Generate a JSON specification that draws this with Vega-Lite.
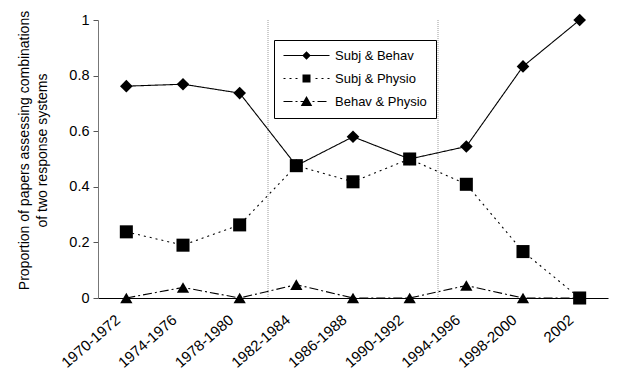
{
  "$schema": "https://vega.github.io/schema/vega-lite/v6.json",
  "width": 510,
  "height": 278,
  "autosize": {"type": "none"},
  "padding": {"left": 98, "top": 20, "right": 11, "bottom": 72},
  "background": "white",
  "config": {
    "view": {"stroke": null},
    "font": "Liberation Sans",
    "axis": {"grid": false, "labelFont": "Liberation Sans", "titleFont": "Liberation Sans", "labelColor": "black", "titleColor": "black"}
  },
  "datasets": {
    "series": [
      {"period": "1970-1972", "series": "Behav & Physio", "value": 0},
      {"period": "1974-1976", "series": "Behav & Physio", "value": 0.038},
      {"period": "1978-1980", "series": "Behav & Physio", "value": 0},
      {"period": "1982-1984", "series": "Behav & Physio", "value": 0.048},
      {"period": "1986-1988", "series": "Behav & Physio", "value": 0},
      {"period": "1990-1992", "series": "Behav & Physio", "value": 0},
      {"period": "1994-1996", "series": "Behav & Physio", "value": 0.045},
      {"period": "1998-2000", "series": "Behav & Physio", "value": 0},
      {"period": "2002", "series": "Behav & Physio", "value": 0},
      {"period": "1970-1972", "series": "Subj & Behav", "value": 0.762},
      {"period": "1974-1976", "series": "Subj & Behav", "value": 0.769},
      {"period": "1978-1980", "series": "Subj & Behav", "value": 0.737},
      {"period": "1982-1984", "series": "Subj & Behav", "value": 0.476},
      {"period": "1986-1988", "series": "Subj & Behav", "value": 0.58},
      {"period": "1990-1992", "series": "Subj & Behav", "value": 0.5},
      {"period": "1994-1996", "series": "Subj & Behav", "value": 0.545},
      {"period": "1998-2000", "series": "Subj & Behav", "value": 0.833},
      {"period": "2002", "series": "Subj & Behav", "value": 1.0},
      {"period": "1970-1972", "series": "Subj & Physio", "value": 0.238},
      {"period": "1974-1976", "series": "Subj & Physio", "value": 0.19},
      {"period": "1978-1980", "series": "Subj & Physio", "value": 0.263},
      {"period": "1982-1984", "series": "Subj & Physio", "value": 0.476},
      {"period": "1986-1988", "series": "Subj & Physio", "value": 0.418},
      {"period": "1990-1992", "series": "Subj & Physio", "value": 0.5},
      {"period": "1994-1996", "series": "Subj & Physio", "value": 0.409},
      {"period": "1998-2000", "series": "Subj & Physio", "value": 0.167},
      {"period": "2002", "series": "Subj & Physio", "value": 0}
    ],
    "dividers": [
      {"period": "1982-1984"},
      {"period": "1994-1996"}
    ]
  },
  "layer": [
    {
      "data": {"name": "dividers"},
      "mark": {"type": "rule", "color": "#9a9a9a", "strokeWidth": 1, "strokeDash": [1, 1]},
      "encoding": {
        "x": {"field": "period", "type": "nominal", "bandPosition": 0}
      }
    },
    {
      "data": {"name": "series"},
      "mark": {"type": "line", "color": "black", "strokeWidth": 1.1},
      "encoding": {
        "x": {"field": "period", "type": "nominal", "bandPosition": 0.5,
              "sort": ["1970-1972","1974-1976","1978-1980","1982-1984","1986-1988","1990-1992","1994-1996","1998-2000","2002"],
              "scale": {"type": "band", "paddingInner": 0, "paddingOuter": 0},
              "axis": {"title": null, "ticks": false, "domainColor": "black", "domainWidth": 1.2, "labelAngle": -41, "labelAlign": "right", "labelBaseline": "top", "labelPadding": 14, "labelOffset": -13, "labelFontSize": 15}},
        "y": {"field": "value", "type": "quantitative",
              "scale": {"domain": [0, 1], "nice": false},
              "axis": {"title": ["Proportion of papers assessing combinations", "of two response systems"], "titleFontSize": 14, "titleFontWeight": "normal", "titleLineHeight": 18, "titlePadding": 19, "titleY": 130, "values": [0, 0.2, 0.4, 0.6, 0.8, 1], "format": "~g", "labelFontSize": 14.5, "tickSize": 5, "tickColor": "#555", "domainColor": "#777", "labelPadding": 4}},
        "strokeDash": {"field": "series", "type": "nominal",
              "scale": {"domain": ["Subj & Behav", "Subj & Physio", "Behav & Physio"], "range": [[1, 0], [2, 4], [9, 3, 2, 3]]},
              "legend": {
                "orient": "none", "legendX": 176, "legendY": 20,
                "title": null, "labelFontSize": 13, "labelFont": "Liberation Sans", "labelColor": "black",
                "strokeColor": "black", "fillColor": "white", "padding": 9,
                "symbolSize": 100, "symbolStrokeWidth": 0, "symbolFillColor": "black", "symbolStrokeColor": "black",
                "labelOffset": 22, "rowPadding": 9, "symbolOffset": 17,
                "symbolType": {"expr": "datum.value === 'Subj & Behav' ? 'M-4.6,-0.1L4.6,-0.1L4.6,0.1L-4.6,0.1ZM0,-0.85L0.85,0L0,0.85L-0.85,0Z' : datum.value === 'Subj & Physio' ? 'M-4.6,-0.12L-4.2,-0.12L-4.2,0.12L-4.6,0.12ZM-3.4,-0.12L-3.0,-0.12L-3.0,0.12L-3.4,0.12ZM-2.2,-0.12L-1.8,-0.12L-1.8,0.12L-2.2,0.12ZM1.8,-0.12L2.2,-0.12L2.2,0.12L1.8,0.12ZM3.0,-0.12L3.4,-0.12L3.4,0.12L3.0,0.12ZM4.2,-0.12L4.6,-0.12L4.6,0.12L4.2,0.12ZM-0.8,-0.8L0.8,-0.8L0.8,0.8L-0.8,0.8Z' : 'M-4.6,-0.12L-2.8,-0.12L-2.8,0.12L-4.6,0.12ZM-2.2,-0.12L-1.8,-0.12L-1.8,0.12L-2.2,0.12ZM-1.2,-0.12L-0.6,-0.12L-0.6,0.12L-1.2,0.12ZM1.2,-0.12L1.6,-0.12L1.6,0.12L1.2,0.12ZM2.2,-0.12L4.0,-0.12L4.0,0.12L2.2,0.12ZM0,-1.1L1.15,0.9L-1.15,0.9Z'"}
              }}
      }
    },
    {
      "data": {"name": "series"},
      "transform": [{"filter": {"field": "series", "equal": "Behav & Physio"}}],
      "mark": {"type": "point", "filled": true, "color": "black", "opacity": 1, "shape": "triangle-up", "size": 150},
      "encoding": {
        "x": {"field": "period", "type": "nominal", "bandPosition": 0.5},
        "y": {"field": "value", "type": "quantitative"}
      }
    },
    {
      "data": {"name": "series"},
      "transform": [{"filter": {"field": "series", "equal": "Subj & Behav"}}],
      "mark": {"type": "point", "filled": true, "color": "black", "opacity": 1, "shape": "diamond", "size": 160},
      "encoding": {
        "x": {"field": "period", "type": "nominal", "bandPosition": 0.5},
        "y": {"field": "value", "type": "quantitative"}
      }
    },
    {
      "data": {"name": "series"},
      "transform": [{"filter": {"field": "series", "equal": "Subj & Physio"}}],
      "mark": {"type": "point", "filled": true, "color": "black", "opacity": 1, "shape": "square", "size": 170},
      "encoding": {
        "x": {"field": "period", "type": "nominal", "bandPosition": 0.5},
        "y": {"field": "value", "type": "quantitative"}
      }
    }
  ]
}
